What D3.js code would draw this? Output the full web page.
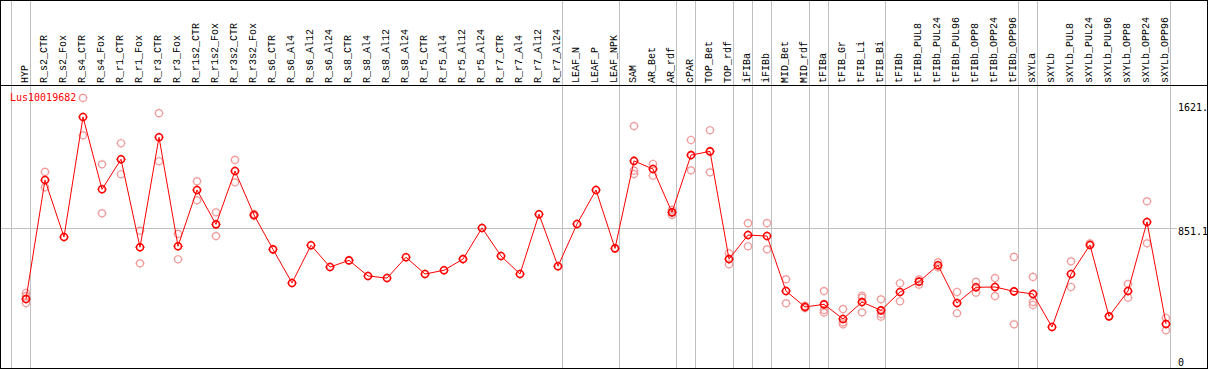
<!DOCTYPE html>
<html><head><meta charset="utf-8">
<script src="https://cdn.jsdelivr.net/npm/d3@7"></script>
<style>body{margin:0;background:#fff}svg{display:block}</style>
</head><body>
<script>
const categories = ["HYP","R_s2_CTR","R_s2_Fox","R_s4_CTR","R_s4_Fox","R_r1_CTR","R_r1_Fox","R_r3_CTR","R_r3_Fox","R_r1s2_CTR","R_r1s2_Fox","R_r3s2_CTR","R_r3s2_Fox","R_s6_CTR","R_s6_Al4","R_s6_Al12","R_s6_Al24","R_s8_CTR","R_s8_Al4","R_s8_Al12","R_s8_Al24","R_r5_CTR","R_r5_Al4","R_r5_Al12","R_r5_Al24","R_r7_CTR","R_r7_Al4","R_r7_Al12","R_r7_Al24","LEAF_N","LEAF_P","LEAF_NPK","SAM","AR_Bet","AR_rdf","cPAR","TOP_Bet","TOP_rdf","iFIBa","iFIBb","MID_Bet","MID_rdf","tFIBa","tFIB_Gr","tFIB_Li","tFIB_Bi","tFIBb","tFIBb_PUL8","tFIBb_PUL24","tFIBb_PUL96","tFIBb_OPP8","tFIBb_OPP24","tFIBb_OPP96","sXYLa","sXYLb","sXYLb_PUL8","sXYLb_PUL24","sXYLb_PUL96","sXYLb_OPP8","sXYLb_OPP24","sXYLb_OPP96"];
const groupSizes = [1,28,3,3,1,2,1,1,2,1,3,7,1,7];
const means = [413,1146,795,1535,1089,1274,732,1410,738,1085,873,1202,931,719,512,744,610,651,555,542,670,567,590,659,851,678,567,935,615,875,1085,725,1264,1214,947,1300,1323,659,807,801,462,364,380,290,394,343,456,520,621,388,485,487,460,444,240,567,746,306,462,888,259];
const replicates = [[450,431,388],[1196,1101],[],[1652,1422],[1243,941],[1373,1182],[834,633],[1558,1262],[814,658],[1138,1021],[947,801],[1270,1132],[937,925],[],[],[],[],[],[],[],[],[],[],[],[],[],[],[],[],[],[],[],[1479,1204,1183],[1245,1173],[962,931],[1393,1206],[1453,1194],[695,627],[880,738],[880,719],[534,386],[370,357],[462,345,329],[351,269,257],[433,421,331],[411,320,304],[510,399],[534,501],[639,608],[456,325],[518,452],[542,431],[672,257],[549,394,376],[],[645,487],[756],[],[505,421],[1015,756],[296,220]];
const geneName = "Lus10019682";
const tickValues = [0, 851.1, 1621];
const tickLabels = ["0", "851.1", "1621."];

const W = 1209, H = 370;
const svg = d3.select("body").append("svg").attr("width", W).attr("height", H);
const font = "'DejaVu Sans Mono', monospace";
const labelFont = "'Liberation Mono', monospace";

const x = d3.scaleLinear().domain([0, categories.length - 1]).range([26, 1166]);
const y = d3.scaleLinear().domain([0, 1621]).range([366, 103]);

// group separators
const seps = [-1];
let acc = -1;
groupSizes.forEach(s => { acc += s; seps.push(acc); });
svg.append("g").selectAll("line").data(seps).join("line")
  .attr("x1", d => Math.round(x(d)) + 4.5).attr("x2", d => Math.round(x(d)) + 4.5)
  .attr("y1", 0).attr("y2", 368)
  .attr("stroke", "#c0c0c0").attr("stroke-width", 1);

// horizontal grid at 851.1
svg.append("line").attr("x1", 1).attr("x2", 1177)
  .attr("y1", Math.round(y(851.1)) + 0.5).attr("y2", Math.round(y(851.1)) + 0.5)
  .attr("stroke", "#c0c0c0");

// frame
svg.append("rect").attr("x", 0.5).attr("y", 0.5).attr("width", 1207).attr("height", 368)
  .attr("fill", "none").attr("stroke", "#000");
svg.append("line").attr("x1", 0).attr("x2", 1208).attr("y1", 85.5).attr("y2", 85.5).attr("stroke", "#000");

// category labels
svg.append("g").selectAll("text").data(categories).join("text")
  .attr("transform", (d, i) => `translate(${Math.round(x(i)) + 2},83) rotate(-90)`)
  .attr("font-family", labelFont).attr("font-size", 10).attr("fill", "#000")
  .text(d => d);

// y tick labels
svg.append("g").selectAll("text").data(tickValues).join("text")
  .attr("x", 1178).attr("y", (d) => Math.min(y(d) + 7.5, 365.5))
  .attr("font-family", font).attr("font-size", 10).attr("fill", "#000")
  .text((d, i) => tickLabels[i]);

// gene name
svg.append("text").attr("x", 10).attr("y", 100.5)
  .attr("font-family", font).attr("font-size", 10).attr("fill", "#ff0000").text(geneName);

function marker(g, color, sw) {
  const r = 3.5;
  g.append("circle").attr("r", r).attr("fill", "none").attr("stroke", color).attr("stroke-width", sw);
  [[0,-1],[0,1],[-1,0],[1,0]].forEach(([dx, dy]) => {
    g.append("line").attr("x1", dx * (r + 0.3)).attr("y1", dy * (r + 0.3)).attr("x2", dx * (r + 1.1)).attr("y2", dy * (r + 1.1))
      .attr("stroke", color).attr("stroke-width", 1);
  });
}

// replicates
const repPts = [];
replicates.forEach((arr, i) => arr.forEach(v => repPts.push([i, v])));
svg.append("g").selectAll("g").data(repPts).join("g")
  .attr("transform", d => `translate(${x(d[0])},${y(d[1])})`)
  .each(function() { marker(d3.select(this), "#f09a9a", 1.2); });

// mean line
svg.append("path").datum(means)
  .attr("d", d3.line().x((d, i) => x(i)).y(d => y(d)))
  .attr("fill", "none").attr("stroke", "#ff0000").attr("stroke-width", 1);

// mean markers
svg.append("g").selectAll("g").data(means).join("g")
  .attr("transform", (d, i) => `translate(${x(i)},${y(d)})`)
  .each(function() { marker(d3.select(this), "#ff0000", 1.6); });
</script>
</body></html>
